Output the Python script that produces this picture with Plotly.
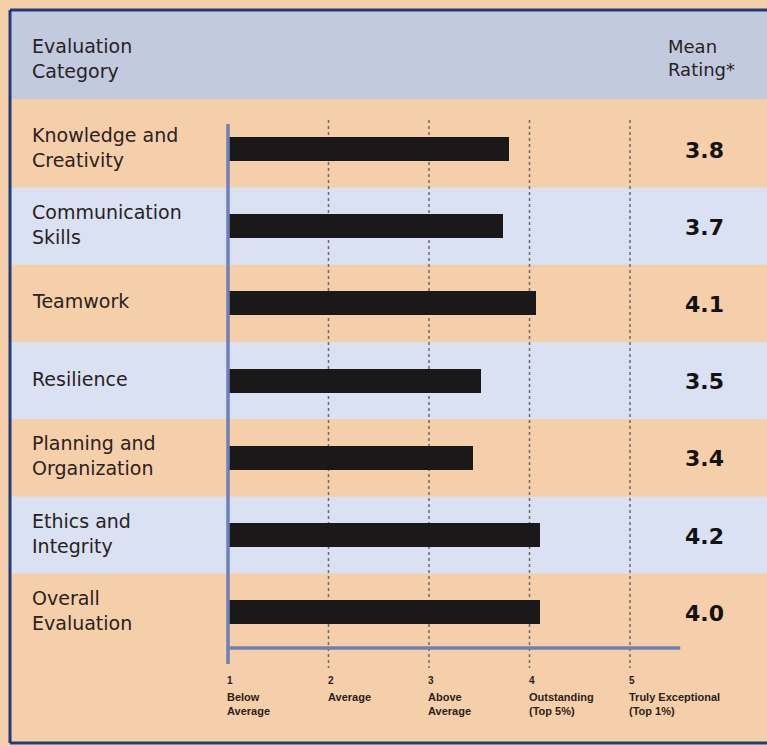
import plotly.graph_objects as go

W, H = 767, 746

categories = ["Knowledge and<br>Creativity", "Communication<br>Skills", "Teamwork",
              "Resilience", "Planning and<br>Organization", "Ethics and<br>Integrity",
              "Overall<br>Evaluation"]
bar_values = [3.80, 3.74, 4.06, 3.52, 3.44, 4.10, 4.10]
mean_labels = ["3.8", "3.7", "4.1", "3.5", "3.4", "4.2", "4.0"]
tick_values = [1, 2, 3, 4, 5]
tick_numbers = ["1", "2", "3", "4", "5"]
tick_texts = ["Below<br>Average", "Average", "Above<br>Average",
              "Outstanding<br>(Top 5%)", "Truly Exceptional<br>(Top 1%)"]

PEACH = "#f5cfaa"
BLUE_ROW = "#d9e1f2"
HEADER = "#c2cadf"
BORDER = "#1f3b7a"
AXIS = "#6c80b6"
BAR = "#1b1819"
TEXT = "#2a2220"

def py(p):
    return 1 - p / H

def px(p):
    return p / W

# x scale: value 1 at 228px, 100.5px per unit
ppu = 100.5
x0 = 1 - 228 / ppu
x1 = x0 + W / ppu
# y scale: category i at 149 + 77.2*i px
step = 77.2
y_top = -149 / step
y_bot = (H - 149) / step

fig = go.Figure()
fig.add_trace(go.Bar(
    y=categories, x=[v - 1 for v in bar_values], base=1, orientation="h",
    marker=dict(color=BAR, line=dict(width=0)), width=0.31,
    hoverinfo="skip", showlegend=False))

shapes = []
# header band
shapes.append(dict(type="rect", xref="paper", yref="paper", x0=px(11), x1=1,
                   y0=py(99), y1=py(11), fillcolor=HEADER, line_width=0, layer="below"))
# blue rows (alternate)
for i, c in enumerate(categories):
    if i % 2 == 1:
        shapes.append(dict(type="rect", xref="paper", yref="y", x0=px(11), x1=1,
                           y0=i - 0.5, y1=i + 0.5, fillcolor=BLUE_ROW, line_width=0,
                           layer="below"))
# dotted gridlines
for t in tick_values[1:]:
    shapes.append(dict(type="line", xref="x", yref="paper", x0=t, x1=t,
                       y0=py(120), y1=py(668),
                       line=dict(color="#6e6a6a", width=1.5, dash="dot"), layer="below"))
# axis lines
shapes.append(dict(type="line", xref="x", yref="paper", x0=1, x1=1,
                   y0=py(124), y1=py(664), line=dict(color=AXIS, width=3.5)))
shapes.append(dict(type="line", xref="x", yref="paper", x0=1, x1=5.5,
                   y0=py(648), y1=py(648), line=dict(color=AXIS, width=3.5)))
# frame border
shapes.append(dict(type="line", xref="paper", yref="paper", x0=px(10), x1=1,
                   y0=py(10), y1=py(10), line=dict(color=BORDER, width=3)))
shapes.append(dict(type="line", xref="paper", yref="paper", x0=px(10), x1=px(10),
                   y0=py(10), y1=py(743), line=dict(color=BORDER, width=3)))
shapes.append(dict(type="line", xref="paper", yref="paper", x0=px(10), x1=1,
                   y0=py(743), y1=py(743), line=dict(color=BORDER, width=3)))

ann = []
lab_font = dict(family="DejaVu Sans", size=19, color=TEXT)
ann.append(dict(text="Evaluation<br>Category", xref="paper", yref="paper",
                x=px(30), y=py(58), xanchor="left", yanchor="middle", align="left",
                showarrow=False, font=lab_font))
ann.append(dict(text="Mean<br>Rating*", xref="paper", yref="paper",
                x=px(666), y=py(58), xanchor="left", yanchor="middle", align="left",
                showarrow=False, font=dict(family="DejaVu Sans", size=18, color=TEXT)))
for c, m in zip(categories, mean_labels):
    ann.append(dict(text=c, xref="paper", yref="y", x=px(30), y=c, xanchor="left",
                    yanchor="middle", align="left", showarrow=False, font=lab_font,
                    yshift=2))
    ann.append(dict(text="<b>" + m + "</b>", xref="paper", yref="y", x=px(704), y=c,
                    xanchor="center", yanchor="middle", showarrow=False,
                    font=dict(family="DejaVu Sans", size=22, color="#141112"), yshift=-1))
tick_font = dict(family="Liberation Sans", size=10, color=TEXT)
for t, n, s in zip(tick_values, tick_numbers, tick_texts):
    ann.append(dict(text="<b>" + n + "</b>", xref="x", yref="paper", x=t, y=py(680),
                    xanchor="left", yanchor="middle", showarrow=False, font=tick_font,
                    xshift=-3))
    ann.append(dict(text="<b>" + s + "</b>", xref="x", yref="paper", x=t, y=py(689),
                    xanchor="left", yanchor="top", align="left", showarrow=False,
                    font=dict(family="Liberation Sans", size=11, color=TEXT), xshift=-3))

fig.update_layout(
    width=W, height=H, margin=dict(l=0, r=0, t=0, b=0),
    paper_bgcolor=PEACH, plot_bgcolor="rgba(0,0,0,0)",
    xaxis=dict(range=[x0, x1], visible=False, fixedrange=True),
    yaxis=dict(type="category", categoryorder="array", categoryarray=categories,
               range=[y_bot, y_top], visible=False, fixedrange=True),
    shapes=shapes, annotations=ann, bargap=0,
)
fig.write_html("out.html", config={"displayModeBar": False})
